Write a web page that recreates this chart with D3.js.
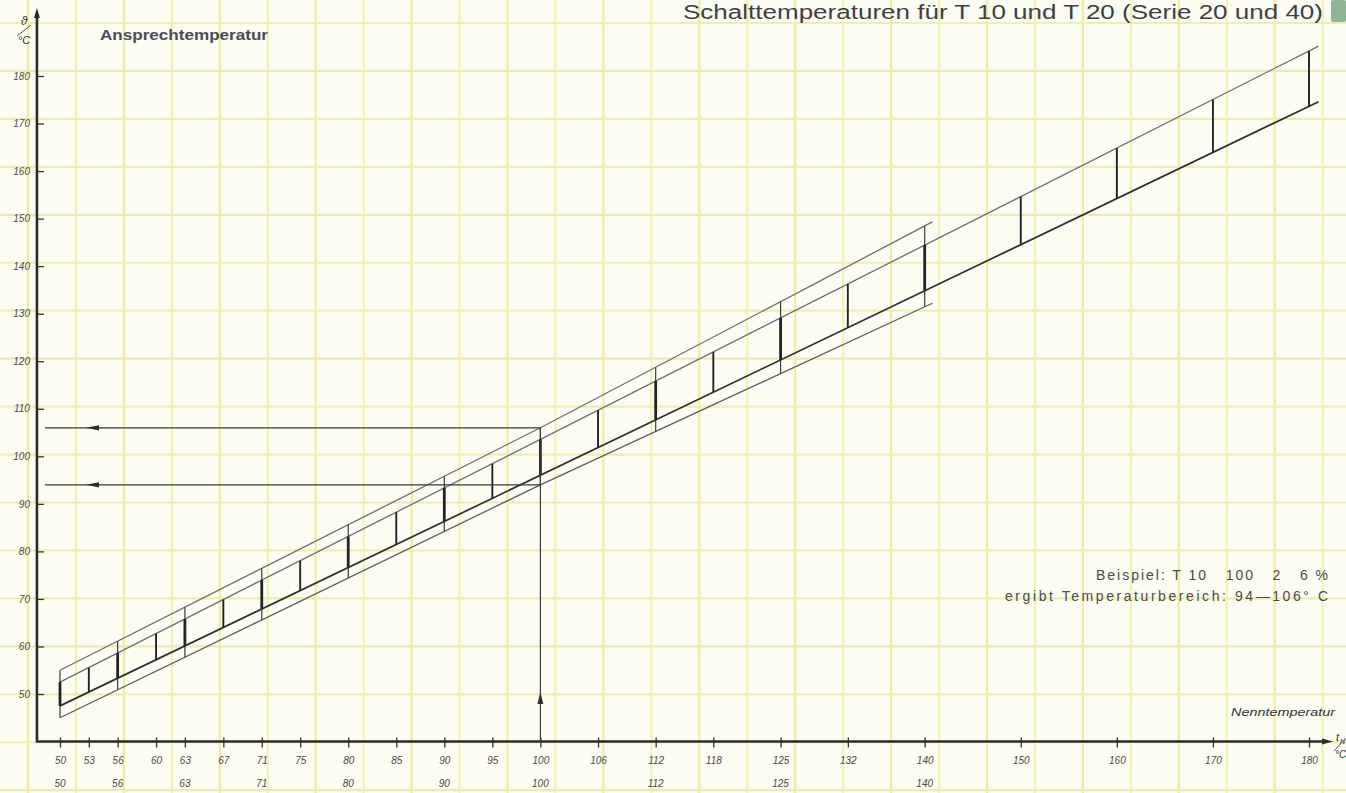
<!DOCTYPE html>
<html>
<head>
<meta charset="utf-8">
<script src="https://cdn.jsdelivr.net/npm/d3@7"></script>
<style>
  html, body { margin: 0; padding: 0; background: #fcfcf3; }
  svg { display: block; }
  text { font-family: "Liberation Sans", Arial, sans-serif; }
</style>
</head>
<body>
<svg id="chart" width="1346" height="793"></svg>
<script>
// Nominal temperatures (Nenntemperatur) – upper label row: series 40 up to 140, then 150…180
const nominalRow1 = [50, 53, 56, 60, 63, 67, 71, 75, 80, 85, 90, 95, 100, 106, 112, 118, 125, 132, 140, 150, 160, 170, 180];
// Lower label row: series 20
const nominalRow2 = [50, 56, 63, 71, 80, 90, 100, 112, 125, 140];
// Response temperature ticks (Ansprechtemperatur)
const responseTicks = [50, 60, 70, 80, 90, 100, 110, 120, 130, 140, 150, 160, 170, 180];

// Band edges as [nominal °C, response °C]
const outerUpper = [[50, 55], [100, 106], [140.8, 149.3]];
const outerLower = [[50, 45], [100, 94], [140.8, 132.2]];
const innerUpper = [[50, 52.5], [181, 186.3]];
const innerLower = [[50, 47.5], [181, 174.6]];

// Worked example: T 10 100 2 6 %
const exampleNominal = 100;
const exampleRange = [94, 106];

// Axis origin values
const axisOriginX = 47.6;
const axisOriginY = 40;

const W = 1346, H = 793;
const svg = d3.select("#chart");

const x = d3.scaleLinear().domain([50, 180]).range([60, 1309]);
const y = d3.scaleLinear().domain([50, 180]).range([694, 76]);

// ---- graph paper ----
const paper = svg.append("g");
paper.append("rect").attr("width", W).attr("height", H).attr("fill", "#fcfcf3");
const step = 47.95;
paper.selectAll("line.v").data(d3.range(28, W, step)).join("line")
  .attr("class", "v")
  .attr("x1", d => d).attr("x2", d => d).attr("y1", 0).attr("y2", H)
  .attr("stroke", (d, i) => i % 2 ? "#f0f3b4" : "#ebefa0")
  .attr("stroke-width", 2.2);
paper.selectAll("line.h").data(d3.range(23, H, step)).join("line")
  .attr("class", "h")
  .attr("y1", d => d).attr("y2", d => d).attr("x1", 0).attr("x2", W)
  .attr("stroke", (d, i) => i % 3 === 1 ? "#f3e8b4" : "#eef0a6")
  .attr("stroke-width", 2.2);

// ---- title & labels ----
svg.append("text")
  .attr("x", 683).attr("y", 19)
  .attr("font-size", 20).attr("fill", "#3f3f46")
  .attr("textLength", 640).attr("lengthAdjust", "spacingAndGlyphs")
  .text("Schalttemperaturen für T 10 und T 20 (Serie 20 und 40)");
svg.append("rect").attr("x", 1331).attr("y", 0).attr("width", 15).attr("height", 22)
  .attr("rx", 2).attr("fill", "#8db596");

svg.append("text")
  .attr("x", 100).attr("y", 40)
  .attr("font-size", 14).attr("font-weight", "bold").attr("fill", "#4a4c5c")
  .attr("textLength", 168).attr("lengthAdjust", "spacingAndGlyphs")
  .text("Ansprechtemperatur");

svg.append("text")
  .attr("x", 1335).attr("y", 716).attr("text-anchor", "end")
  .attr("font-size", 10).attr("font-style", "italic").attr("fill", "#333")
  .attr("textLength", 104).attr("lengthAdjust", "spacingAndGlyphs")
  .text("Nenntemperatur");

svg.append("text")
  .attr("x", 1328).attr("y", 580).attr("text-anchor", "end")
  .attr("font-size", 14).attr("fill", "#4a4a4a")
  .attr("textLength", 232).attr("lengthAdjust", "spacing")
  .attr("xml:space", "preserve")
  .text("Beispiel: T 10   100   2   6 %");
svg.append("text")
  .attr("x", 1328).attr("y", 601).attr("text-anchor", "end")
  .attr("font-size", 14).attr("fill", "#4a4a4a")
  .attr("textLength", 323).attr("lengthAdjust", "spacing")
  .text("ergibt Temperaturbereich: 94—106° C");

// unit labels
const yUnit = svg.append("g").attr("fill", "#333").attr("font-style", "italic");
yUnit.append("text").attr("x", 24).attr("y", 25).attr("font-size", 12).attr("text-anchor", "middle").text("ϑ");
yUnit.append("line").attr("x1", 17).attr("y1", 36).attr("x2", 31).attr("y2", 25).attr("stroke", "#444").attr("stroke-width", 0.9);
yUnit.append("text").attr("x", 24).attr("y", 44).attr("font-size", 11).attr("text-anchor", "middle").text("°C");

const xUnit = svg.append("g").attr("fill", "#333").attr("font-style", "italic");
xUnit.append("text").attr("x", 1336).attr("y", 741).attr("font-size", 11).text("t");
xUnit.append("text").attr("x", 1340).attr("y", 744).attr("font-size", 7).text("N");
xUnit.append("line").attr("x1", 1334).attr("y1", 751).attr("x2", 1346).attr("y2", 738).attr("stroke", "#444").attr("stroke-width", 0.9);
xUnit.append("text").attr("x", 1335).attr("y", 758).attr("font-size", 10).text("°C");

// ---- axes ----
const x0 = x(axisOriginX), y0 = y(axisOriginY);

const yAxis = d3.axisLeft(y).tickValues(responseTicks).tickSizeInner(-7).tickSizeOuter(0).tickPadding(7);
const gy = svg.append("g").attr("transform", `translate(${x0},0)`).call(yAxis);
gy.select(".domain").remove();
gy.selectAll(".tick line").attr("stroke", "#333").attr("stroke-width", 1.3);
gy.selectAll(".tick text").attr("font-size", 10).attr("font-style", "italic")
  .attr("fill", "#4a4a4a").attr("font-family", "\"Liberation Sans\", Arial, sans-serif");

const xAxis = d3.axisBottom(x).tickValues(nominalRow1).tickSizeInner(6).tickSizeOuter(0).tickPadding(9);
const gx = svg.append("g").attr("transform", `translate(0,${y0})`).call(xAxis);
gx.select(".domain").remove();
gx.selectAll(".tick line").attr("stroke", "#333").attr("stroke-width", 1.3).attr("y1", -4);
gx.selectAll(".tick text").attr("font-size", 10).attr("font-style", "italic")
  .attr("fill", "#4a4a4a").attr("font-family", "\"Liberation Sans\", Arial, sans-serif");

svg.append("g").selectAll("text").data(nominalRow2).join("text")
  .attr("x", d => x(d)).attr("y", 787).attr("text-anchor", "middle")
  .attr("font-size", 10).attr("font-style", "italic").attr("fill", "#4a4a4a")
  .text(d => d);

// axis lines with arrow tips
svg.append("line").attr("x1", x0).attr("y1", y0).attr("x2", x0).attr("y2", 14)
  .attr("stroke", "#2c2c2c").attr("stroke-width", 2.6);
svg.append("path").attr("d", `M${x0},8 L${x0 - 3},18 L${x0 + 3},18 Z`).attr("fill", "#2c2c2c");
svg.append("line").attr("x1", x0 - 1).attr("y1", y0).attr("x2", 1326).attr("y2", y0)
  .attr("stroke", "#2c2c2c").attr("stroke-width", 2.6);
svg.append("path").attr("d", `M1333,${y0} L1322,${y0 - 3} L1322,${y0 + 3} Z`).attr("fill", "#2c2c2c");

// ---- tolerance bands ----
const line = d3.line().x(d => x(d[0])).y(d => y(d[1]));
const at = pts => d3.scaleLinear().domain(pts.map(p => p[0])).range(pts.map(p => p[1]));
const oU = at(outerUpper), oL = at(outerLower), iU = at(innerUpper), iL = at(innerLower);

const bands = svg.append("g").attr("fill", "none");
bands.append("path").datum(outerUpper).attr("d", line).attr("stroke", "#6c6c76").attr("stroke-width", 1.3);
bands.append("path").datum(outerLower).attr("d", line).attr("stroke", "#5e5e66").attr("stroke-width", 1.3);
bands.append("path").datum(innerUpper).attr("d", line).attr("stroke", "#6c6c76").attr("stroke-width", 1.3);
bands.append("path").datum(innerLower).attr("d", line).attr("stroke", "#2e2e34").attr("stroke-width", 1.7);

// series 20 markers span the outer band, with the inner band drawn heavy
const serie20 = new Set(nominalRow2);
const marks = svg.append("g");
marks.selectAll("line.outer").data(nominalRow1.filter(d => serie20.has(d))).join("line")
  .attr("class", "outer")
  .attr("x1", d => x(d)).attr("x2", d => x(d))
  .attr("y1", d => y(oU(d))).attr("y2", d => y(oL(d)))
  .attr("stroke", "#3a3a40").attr("stroke-width", 1.2);
marks.selectAll("line.inner").data(nominalRow1).join("line")
  .attr("class", "inner")
  .attr("x1", d => x(d)).attr("x2", d => x(d))
  .attr("y1", d => y(iU(d))).attr("y2", d => y(iL(d)))
  .attr("stroke", "#232327")
  .attr("stroke-width", d => serie20.has(d) ? 2.8 : 1.9);

// ---- worked example with arrows ----
const ex = svg.append("g").attr("stroke", "#3a3a3e").attr("stroke-width", 1.2);
ex.append("line")
  .attr("x1", x(exampleNominal)).attr("x2", x(exampleNominal))
  .attr("y1", y0).attr("y2", y(exampleRange[1]));
const ax = x(exampleNominal);
const tipY = y(50) - 2;
svg.append("path").attr("d", `M${ax},${tipY} L${ax - 3},${tipY + 12} L${ax + 3},${tipY + 12} Z`).attr("fill", "#2e2e32");

ex.selectAll("line.h").data(exampleRange).join("line")
  .attr("class", "h")
  .attr("x1", x0 + 8).attr("x2", x(exampleNominal))
  .attr("y1", d => y(d)).attr("y2", d => y(d));
svg.append("g").selectAll("path").data(exampleRange).join("path")
  .attr("d", d => { const yy = y(d); return `M86,${yy} L99,${yy - 2.6} L99,${yy + 2.6} Z`; })
  .attr("fill", "#2e2e32");
</script>
</body>
</html>
